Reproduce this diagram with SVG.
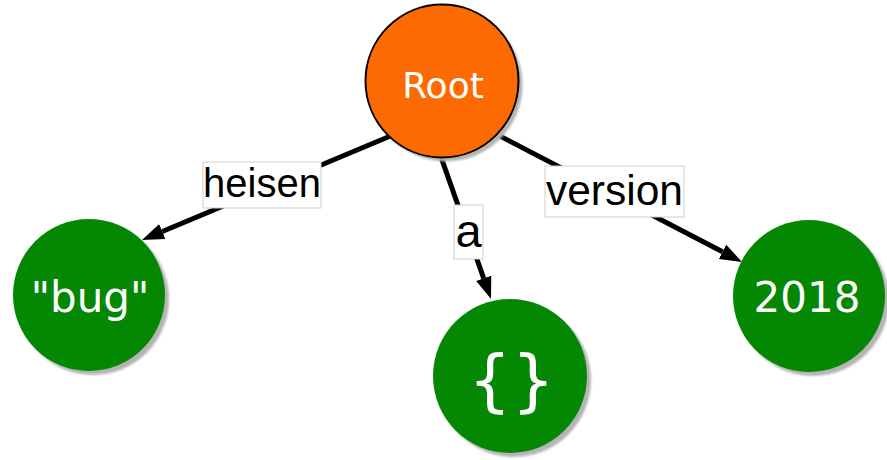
<svg xmlns="http://www.w3.org/2000/svg" width="887" height="460" viewBox="0 0 887 460">
  <style>
    .edge { stroke: #000; stroke-width: 5; fill: none; marker-end: url(#arrow); }
    .node-text { font-family: "DejaVu Sans", sans-serif; fill: #fff; text-anchor: middle; }
    .label-box { fill: #fff; stroke: #cfcfcf; stroke-width: 1; }
    .label-text { font-family: "Liberation Sans", Arial, sans-serif; fill: #000; text-anchor: middle; }
    .shadow { fill: #b4b4b4; filter: url(#soft); }
    .leaf { fill: #048804; }
    .root { fill: #fd6a02; stroke: #000; stroke-width: 2; }
  </style>
  <defs>
    <marker id="arrow" markerUnits="userSpaceOnUse" markerWidth="24" markerHeight="18" viewBox="0 -9 24 18" refX="0" refY="0" orient="auto">
      <path d="M0,-8 L22,0 L0,8 Z" fill="#000"/>
    </marker>
    <filter id="soft" x="-10%" y="-10%" width="120%" height="120%">
      <feGaussianBlur stdDeviation="1"/>
    </filter>
  </defs>

  <rect width="887" height="460" fill="#fff"/>

  <!-- connectors -->
  <g id="edges">
    <line class="edge" x1="401.8" y1="131.2" x2="162.3" y2="231.5"/>
    <line class="edge" x1="435.4" y1="141.1" x2="483.7" y2="278.3"/>
    <line class="edge" x1="484.7" y1="128.1" x2="722.5" y2="251.8"/>
  </g>

  <!-- edge labels -->
  <g id="label-heisen">
    <rect class="label-box" x="203" y="162" width="118" height="46"/>
    <text class="label-text" x="262" y="197" font-size="40">heisen</text>
  </g>
  <g id="label-a">
    <rect class="label-box" x="454" y="205" width="29" height="54"/>
    <text class="label-text" x="468.5" y="246.5" font-size="47">a</text>
  </g>
  <g id="label-version">
    <rect class="label-box" x="545" y="166" width="139" height="51"/>
    <text class="label-text" x="614.5" y="205" font-size="42.5">version</text>
  </g>

  <!-- nodes -->
  <g id="node-root">
    <circle class="shadow" cx="446" cy="85" r="76.5"/>
    <circle class="root" cx="442" cy="81" r="76.5"/>
    <text class="node-text" x="443" y="98.3" font-size="36">Root</text>
  </g>
  <g id="node-bug">
    <circle class="shadow" cx="93" cy="299" r="76"/>
    <circle class="leaf" cx="89" cy="295" r="76"/>
    <text class="node-text" x="90" y="312" font-size="42">"bug"</text>
  </g>
  <g id="node-object">
    <circle class="shadow" cx="514" cy="380" r="77"/>
    <circle class="leaf" cx="510" cy="376" r="77"/>
    <text class="node-text" x="511.5" y="404" font-size="68">{}</text>
  </g>
  <g id="node-2018">
    <circle class="shadow" cx="813" cy="300" r="76"/>
    <circle class="leaf" cx="809" cy="296" r="76"/>
    <text class="node-text" x="807" y="311.7" font-size="42">2018</text>
  </g>
</svg>
